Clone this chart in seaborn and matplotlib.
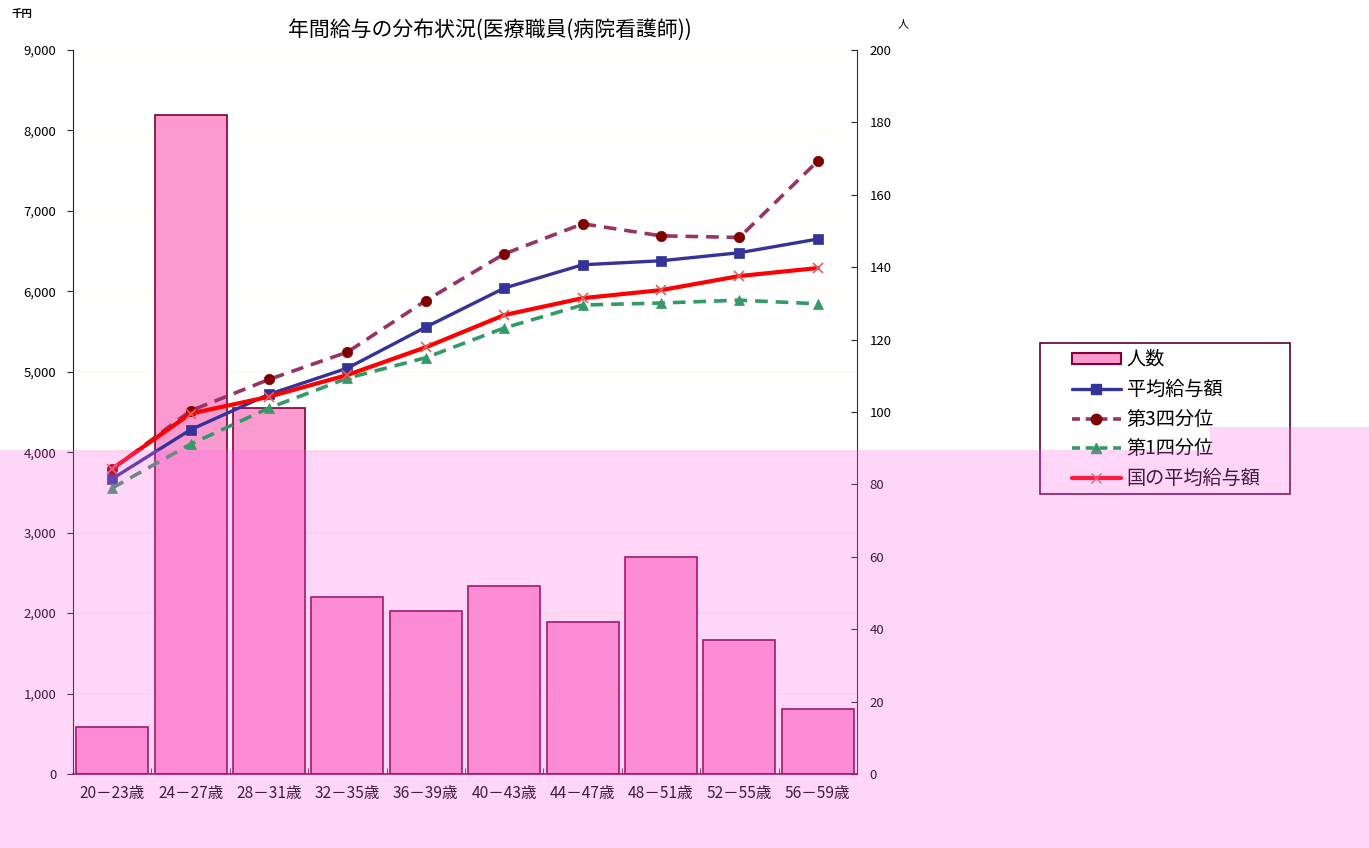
import numpy as np
import pandas as pd
import matplotlib
matplotlib.use('Agg')
import matplotlib.pyplot as plt
from matplotlib.patches import Polygon, Rectangle, Patch
from matplotlib.lines import Line2D
from matplotlib.ticker import FuncFormatter, MultipleLocator, FixedLocator
import seaborn as sns

# data
ages = ['20－23歳', '24－27歳', '28－31歳', '32－35歳', '36－39歳',
        '40－43歳', '44－47歳', '48－51歳', '52－55歳', '56－59歳']
people = [13, 182, 101, 49, 45, 52, 42, 60, 37, 18]
avg_pay = [3670, 4280, 4720, 5045, 5555, 6040, 6330, 6380, 6480, 6650]
q3_pay = [3790, 4515, 4905, 5245, 5885, 6465, 6840, 6690, 6670, 7620]
q1_pay = [3555, 4100, 4550, 4920, 5175, 5545, 5830, 5855, 5890, 5845]
nat_pay = [3795, 4480, 4690, 4960, 5305, 5705, 5915, 6015, 6190, 6290]

df = pd.DataFrame({'age': ages, 'people': people, 'avg': avg_pay,
                   'q3': q3_pay, 'q1': q1_pay, 'nat': nat_pay})

sns.set_style('white')
plt.rcParams['font.family'] = ['Noto Sans CJK JP', 'DejaVu Sans']
plt.rcParams['text.color'] = 'black'
plt.rcParams['xtick.labelcolor'] = 'black'
plt.rcParams['ytick.labelcolor'] = 'black'

W, H = 1369, 848
fig = plt.figure(figsize=(W / 100, H / 100), dpi=100, facecolor='white')
ax1 = fig.add_axes([73 / W, 1 - 774 / H, 784 / W, 724 / H])
ax2 = ax1.twinx()

bar_color = '#FA9ACF'
edge_color = '#800038'

# bars (people) on the right axis
sns.barplot(data=df, x='age', y='people', ax=ax2, color=bar_color,
            edgecolor=edge_color, linewidth=1.2, width=0.92, saturation=1)

# faint grid lines behind the bars, at the left-axis steps
for v in range(1000, 9001, 1000):
    ax2.axhline(v * 200 / 9000, color='#FCFBEC', lw=1.2, zorder=0)

# lines (pay) on the left axis
line_styles = [
    ('avg', '#333399', '-', 's', '#333399', 6.5, 2.4),
    ('q3', '#993366', (0, (3.5, 2.2)), 'o', '#800000', 7.5, 2.6),
    ('q1', '#339966', (0, (3.5, 2.2)), '^', '#339966', 6.5, 2.6),
    ('nat', '#FF0000', '-', 'x', '#E06060', 7.5, 3.0),
]
for col, c, ls, mk, mc, ms, lw in line_styles:
    sns.lineplot(data=df, x='age', y=col, ax=ax1, color=c, linestyle=ls,
                 marker=mk, markersize=ms, markerfacecolor=mc,
                 markeredgecolor=mc, markeredgewidth=1.2 if mk == 'x' else 0.5,
                 linewidth=lw, sort=False)

ax1.set_zorder(2)
ax1.patch.set_visible(False)

ax1.set_xlim(-0.5, 9.5)
ax1.set_ylim(0, 9000)
ax2.set_ylim(0, 200)
ax1.yaxis.set_major_locator(MultipleLocator(1000))
ax1.yaxis.set_major_formatter(FuncFormatter(lambda v, p: f'{int(v):,}'))
ax2.yaxis.set_major_locator(MultipleLocator(20))

ax1.set_xlabel('')
ax1.set_ylabel('')
ax2.set_xlabel('')
ax2.set_ylabel('')

ax1.set_xticks(range(len(ages)))
ax1.set_xticklabels(ages, fontsize=11.2)
ax1.xaxis.set_minor_locator(FixedLocator(np.arange(0.5, 9.5, 1)))
ax1.tick_params(axis='x', which='major', length=0, pad=8)
ax1.tick_params(axis='x', which='minor', direction='in', length=4,
                color=edge_color, bottom=True)
ax2.tick_params(axis='x', which='both', length=0)
ax1.tick_params(axis='y', direction='out', length=4, labelsize=9.5, pad=8,
                color='#222222')
ax2.tick_params(axis='y', direction='in', length=4, labelsize=9.5, pad=9,
                color='#222222')

for a in (ax1, ax2):
    a.spines['top'].set_visible(False)
ax1.spines['left'].set_color('#222222')
ax2.spines['left'].set_visible(False)
ax2.spines['right'].set_color('#333333')
ax1.spines['right'].set_visible(False)
ax1.spines['bottom'].set_color(edge_color)
ax1.spines['bottom'].set_linewidth(1.2)
ax2.spines['bottom'].set_visible(False)

# titles and units
fig.text(490 / W, 1 - 30 / H, '年間給与の分布状況(医療職員(病院看護師))',
         ha='center', va='center', fontsize=15)
fig.text(22 / W, 1 - 14 / H, '千円', ha='center', va='center', fontsize=7.5,
         fontweight='bold')
fig.text(903 / W, 1 - 24 / H, '人', ha='center', va='center', fontsize=8)

# legend
handles = [
    Patch(facecolor=bar_color, edgecolor=edge_color, linewidth=1.5),
    Line2D([], [], color='#333399', lw=2.4, marker='s', ms=6.5),
    Line2D([], [], color='#993366', lw=2.6, ls=(0, (2.2, 1.6)), marker='o',
           ms=7.5, mfc='#800000', mec='#800000'),
    Line2D([], [], color='#339966', lw=2.6, ls=(0, (2.2, 1.6)), marker='^',
           ms=6.5),
    Line2D([], [], color='#FF0000', lw=3.0, marker='x', ms=7.5, mec='#E06060'),
]
labels = ['人数', '平均給与額', '第3四分位', '第1四分位', '国の平均給与額']
fig.legend(handles, labels, loc='upper left',
           bbox_to_anchor=(1072 / W, 1 - 349 / H), frameon=False,
           fontsize=13.8, handlelength=2.55, handletextpad=0.3,
           labelspacing=0.46, borderpad=0, borderaxespad=0,
           handleheight=0.5)
fig.patches.append(Rectangle((1040 / W, 1 - 494 / H), 250 / W, 151 / H,
                             transform=fig.transFigure, fill=False,
                             edgecolor='#600030', linewidth=1.2, zorder=5))

# pink tint over the lower part of the image
pts = [(0, 450), (1210, 450), (1210, 427), (W, 427), (W, H), (0, H)]
fig.patches.append(Polygon([(x / W, 1 - y / H) for x, y in pts],
                           closed=True, transform=fig.transFigure,
                           facecolor='#FF64E6', alpha=0.27, edgecolor='none',
                           zorder=20))

fig.savefig('out.png', dpi=100, facecolor='white')
